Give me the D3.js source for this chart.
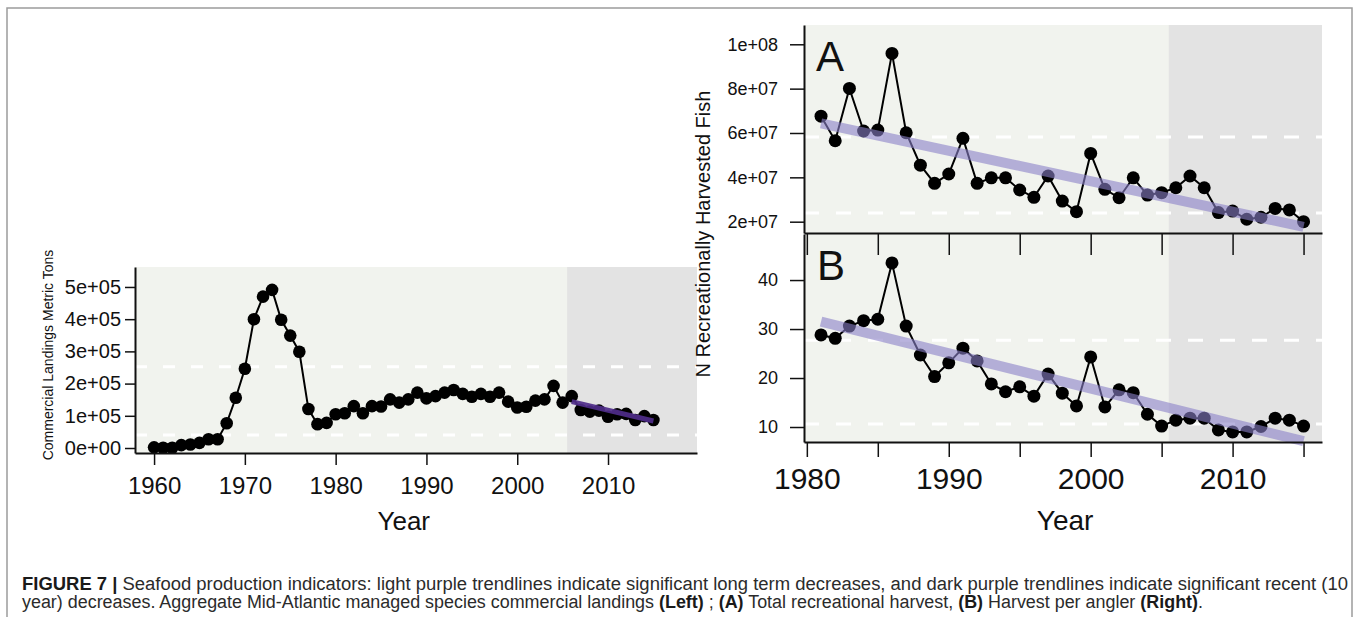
<!DOCTYPE html>
<html>
<head>
<meta charset="utf-8">
<script src="https://cdn.jsdelivr.net/npm/d3@7"></script>
<style>
  body { margin: 0; background: #fff; }
  svg { display: block; }
  text { font-family: "Liberation Sans", Arial, Helvetica, sans-serif; fill: #111; }
  text.caption { font-family: "Liberation Sans Narrow", "Arial Narrow", "Liberation Sans", sans-serif; fill: #2b2b2b; }
</style>
</head>
<body>
<div id="chart"></div>
<script>
// ---- data ----
var landYears = [1960,1961,1962,1963,1964,1965,1966,1967,1968,1969,1970,1971,1972,1973,1974,1975,1976,1977,1978,1979,
  1980,1981,1982,1983,1984,1985,1986,1987,1988,1989,1990,1991,1992,1993,1994,1995,1996,1997,1998,1999,
  2000,2001,2002,2003,2004,2005,2006,2007,2008,2009,2010,2011,2012,2013,2014,2015];
var landTons = [2000,1000,1000,9000,11000,16000,27000,27000,77000,156000,246000,400000,470000,491000,398000,349000,299000,121000,74000,78000,
  105000,108000,130000,108000,130000,129000,151000,141000,151000,172000,154000,161000,172000,180000,168000,159000,168000,159000,172000,144000,
  126000,128000,147000,151000,193000,141000,161000,118000,113000,116000,97000,105000,106000,87000,99000,87000];
var landTrendYears = [2006, 2015];
var landTrendValues = [144000, 84000];
var landRefLines = [40000, 252000];
var landYTicks = [0, 100000, 200000, 300000, 400000, 500000];
var landYTickLabels = ["0e+00", "1e+05", "2e+05", "3e+05", "4e+05", "5e+05"];
var landXTicks = [1960, 1970, 1980, 1990, 2000, 2010];

var recYears = [1981,1982,1983,1984,1985,1986,1987,1988,1989,1990,1991,1992,1993,1994,1995,1996,1997,1998,1999,2000,
  2001,2002,2003,2004,2005,2006,2007,2008,2009,2010,2011,2012,2013,2014,2015];
var recHarvest = [67.6e6,56.5e6,80.1e6,60.9e6,61.3e6,95.9e6,60.1e6,45.5e6,37.3e6,41.5e6,57.6e6,37.3e6,39.8e6,39.8e6,34.3e6,31.0e6,40.6e6,29.3e6,24.5e6,50.8e6,
  34.6e6,30.8e6,39.8e6,32.0e6,33.1e6,35.3e6,40.6e6,35.3e6,24.1e6,24.8e6,21.1e6,22.0e6,26.0e6,25.3e6,20.0e6];
var perAngler = [28.8,28.1,30.6,31.7,32.0,43.5,30.6,24.7,20.3,23.1,26.1,23.5,18.8,17.2,18.2,16.3,20.8,16.9,14.3,24.3,
  14.1,17.6,17.0,12.6,10.2,11.4,11.8,11.8,9.4,9.0,9.0,10.1,11.8,11.4,10.2];
var recTrendYears = [1981, 2015];
var harvestTrendValues = [64.3e6, 17.7e6];
var anglerTrendValues = [31.5, 7.1];
var harvestRefLines = [23.9e6, 58.2e6];
var anglerRefLines = [10.6, 27.7];
var harvestYTicks = [2e7, 4e7, 6e7, 8e7, 1e8];
var harvestYTickLabels = ["2e+07", "4e+07", "6e+07", "8e+07", "1e+08"];
var anglerYTicks = [10, 20, 30, 40];
var recXTicks = [1980, 1985, 1990, 1995, 2000, 2005, 2010, 2015];
var recXLabelled = [1980, 1990, 2000, 2010];

var recentStart = 2005.5;

var caption1 = [["FIGURE 7 |", true], [" Seafood production indicators: light purple trendlines indicate significant long term decreases, and dark purple trendlines indicate significant recent (10", false]];
var caption2 = [["year) decreases. Aggregate Mid-Atlantic managed species commercial landings ", false], ["(Left)", true], [" ; ", false], ["(A)", true],
  [" Total recreational harvest, ", false], ["(B)", true], [" Harvest per angler ", false], ["(Right)", true], [".", false]];

// ---- drawing ----
var width = 1358, height = 617;
var bgColor = "#f1f3ee", recentColor = "#e3e3e3";

var svg = d3.select("#chart").append("svg")
    .attr("width", width)
    .attr("height", height);

// figure frame
svg.append("path")
    .attr("d", "M7,617V8H1352V617")
    .attr("fill", "none")
    .attr("stroke", "#9c9c9c")
    .attr("stroke-width", 1.5);

function panel(opt) {
    var g = svg.append("g");
    var x = opt.x, y = opt.y;
    var x0 = x.range()[0], x1 = x.range()[1];
    var yb = y.range()[0], yt = y.range()[1];

    g.append("rect")
        .attr("x", x0).attr("y", yt)
        .attr("width", x1 - x0).attr("height", yb - yt)
        .attr("fill", bgColor);
    g.append("rect")
        .attr("x", x(recentStart)).attr("y", yt)
        .attr("width", x1 - x(recentStart)).attr("height", yb - yt)
        .attr("fill", recentColor);

    g.selectAll("line.ref").data(opt.refs).enter().append("line")
        .attr("class", "ref")
        .attr("x1", x0).attr("x2", x1)
        .attr("y1", function (d) { return y(d); })
        .attr("y2", function (d) { return y(d); })
        .attr("stroke", "#fff")
        .attr("stroke-width", 3)
        .attr("stroke-dasharray", opt.dash);

    var line = d3.line()
        .x(function (d, i) { return x(opt.years[i]); })
        .y(function (d) { return y(d); });
    g.append("path")
        .datum(opt.values)
        .attr("d", line)
        .attr("fill", "none")
        .attr("stroke", "#000")
        .attr("stroke-width", 2);
    g.selectAll("circle").data(opt.values).enter().append("circle")
        .attr("cx", function (d, i) { return x(opt.years[i]); })
        .attr("cy", function (d) { return y(d); })
        .attr("r", opt.r)
        .attr("fill", "#000");

    var tline = d3.line()
        .x(function (d, i) { return x(opt.trendYears[i]); })
        .y(function (d) { return y(d); });
    g.append("path")
        .datum(opt.trendValues)
        .attr("d", tline)
        .attr("fill", "none")
        .attr("stroke", opt.trendColor)
        .attr("stroke-opacity", opt.trendOpacity)
        .attr("stroke-width", opt.trendWidth);
    return g;
}

function styleAxis(sel, fontSize) {
    sel.selectAll(".domain").attr("stroke", "#111").attr("stroke-width", 2);
    sel.selectAll(".tick line").attr("stroke", "#111").attr("stroke-width", 1.5);
    sel.selectAll("text")
        .attr("font-size", fontSize)
        .attr("font-family", '"Liberation Sans", Arial, sans-serif')
        .attr("fill", "#111");
}

// ---- left: commercial landings ----
var lx = d3.scaleLinear().domain([1957.9, 2019.8]).range([135, 697]);
var ly = d3.scaleLinear().domain([-15500, 562000]).range([453, 267]);

panel({
    x: lx, y: ly, years: landYears, values: landTons, r: 6.3,
    refs: landRefLines, dash: "12,16",
    trendYears: landTrendYears, trendValues: landTrendValues,
    trendColor: "#4f2d8a", trendOpacity: 0.92, trendWidth: 5
});

var lyAxis = svg.append("g")
    .attr("transform", "translate(135,0)")
    .call(d3.axisLeft(ly).tickValues(landYTicks)
        .tickFormat(function (d, i) { return landYTickLabels[i]; })
        .tickSize(10).tickSizeOuter(0).tickPadding(4));
styleAxis(lyAxis, 20);

var lxAxis = svg.append("g")
    .attr("transform", "translate(0,453)")
    .call(d3.axisBottom(lx).tickValues(landXTicks).tickFormat(d3.format("d"))
        .tickSize(12).tickSizeOuter(0).tickPadding(12));
styleAxis(lxAxis, 24);

svg.append("text")
    .attr("x", lx(1987.5)).attr("y", 530)
    .attr("text-anchor", "middle")
    .attr("font-size", 26)
    .text("Year");

svg.append("text")
    .attr("transform", "translate(53,355) rotate(-90)")
    .attr("text-anchor", "middle")
    .attr("font-size", 14)
    .text("Commercial Landings Metric Tons");

// ---- right: recreational harvest (A) and harvest per angler (B) ----
var rx = d3.scaleLinear().domain([1979.8, 2016.3]).range([804, 1322]);
var ayScale = d3.scaleLinear().domain([14.9e6, 108.7e6]).range([233, 25]);
var byScale = d3.scaleLinear().domain([6.94, 49.4]).range([442, 234]);

panel({
    x: rx, y: byScale, years: recYears, values: perAngler, r: 6.5,
    refs: anglerRefLines, dash: "15,17",
    trendYears: recTrendYears, trendValues: anglerTrendValues,
    trendColor: "#8a80c8", trendOpacity: 0.6, trendWidth: 10
});
panel({
    x: rx, y: ayScale, years: recYears, values: recHarvest, r: 6.5,
    refs: harvestRefLines, dash: "15,17",
    trendYears: recTrendYears, trendValues: harvestTrendValues,
    trendColor: "#8a80c8", trendOpacity: 0.6, trendWidth: 10
});

var ayAxis = svg.append("g")
    .attr("transform", "translate(804,0)")
    .call(d3.axisLeft(ayScale).tickValues(harvestYTicks)
        .tickFormat(function (d, i) { return harvestYTickLabels[i]; })
        .tickSize(14).tickSizeOuter(0).tickPadding(12));
styleAxis(ayAxis, 18);

var byAxis = svg.append("g")
    .attr("transform", "translate(804,0)")
    .call(d3.axisLeft(byScale).tickValues(anglerYTicks).tickFormat(d3.format("d"))
        .tickSize(14).tickSizeOuter(0).tickPadding(12));
styleAxis(byAxis, 18);

var axAxis = svg.append("g")
    .attr("transform", "translate(0,233)")
    .call(d3.axisBottom(rx).tickValues(recXTicks).tickFormat("")
        .tickSize(22).tickSizeOuter(0));
styleAxis(axAxis, 18);

var bxAxis = svg.append("g")
    .attr("transform", "translate(0,442)")
    .call(d3.axisBottom(rx).tickValues(recXTicks)
        .tickFormat(function (d) { return recXLabelled.indexOf(d) >= 0 ? d : ""; })
        .tickSize(15).tickSizeOuter(0).tickPadding(11));
styleAxis(bxAxis, 30);

svg.append("text")
    .attr("x", 816).attr("y", 71)
    .attr("font-size", 42)
    .text("A");
svg.append("text")
    .attr("x", 817).attr("y", 280)
    .attr("font-size", 42)
    .text("B");

svg.append("text")
    .attr("x", rx(1998.2)).attr("y", 530)
    .attr("text-anchor", "middle")
    .attr("font-size", 28)
    .text("Year");

svg.append("text")
    .attr("transform", "translate(710,234) rotate(-90)")
    .attr("text-anchor", "middle")
    .attr("font-size", 20)
    .text("N Recreationally Harvested Fish");

// ---- caption ----
function captionLine(parts, yPos, len) {
    var t = svg.append("text")
        .attr("class", "caption")
        .attr("x", 22).attr("y", yPos)
        .attr("font-size", 18)
        .attr("textLength", len)
        .attr("lengthAdjust", "spacingAndGlyphs");
    parts.forEach(function (p) {
        t.append("tspan")
            .attr("font-weight", p[1] ? "bold" : "normal")
            .attr("fill", p[1] ? "#1a1a1a" : "#2b2b2b")
            .text(p[0]);
    });
}
captionLine(caption1, 590, 1326);
captionLine(caption2, 608, 1181);
</script>
</body>
</html>
